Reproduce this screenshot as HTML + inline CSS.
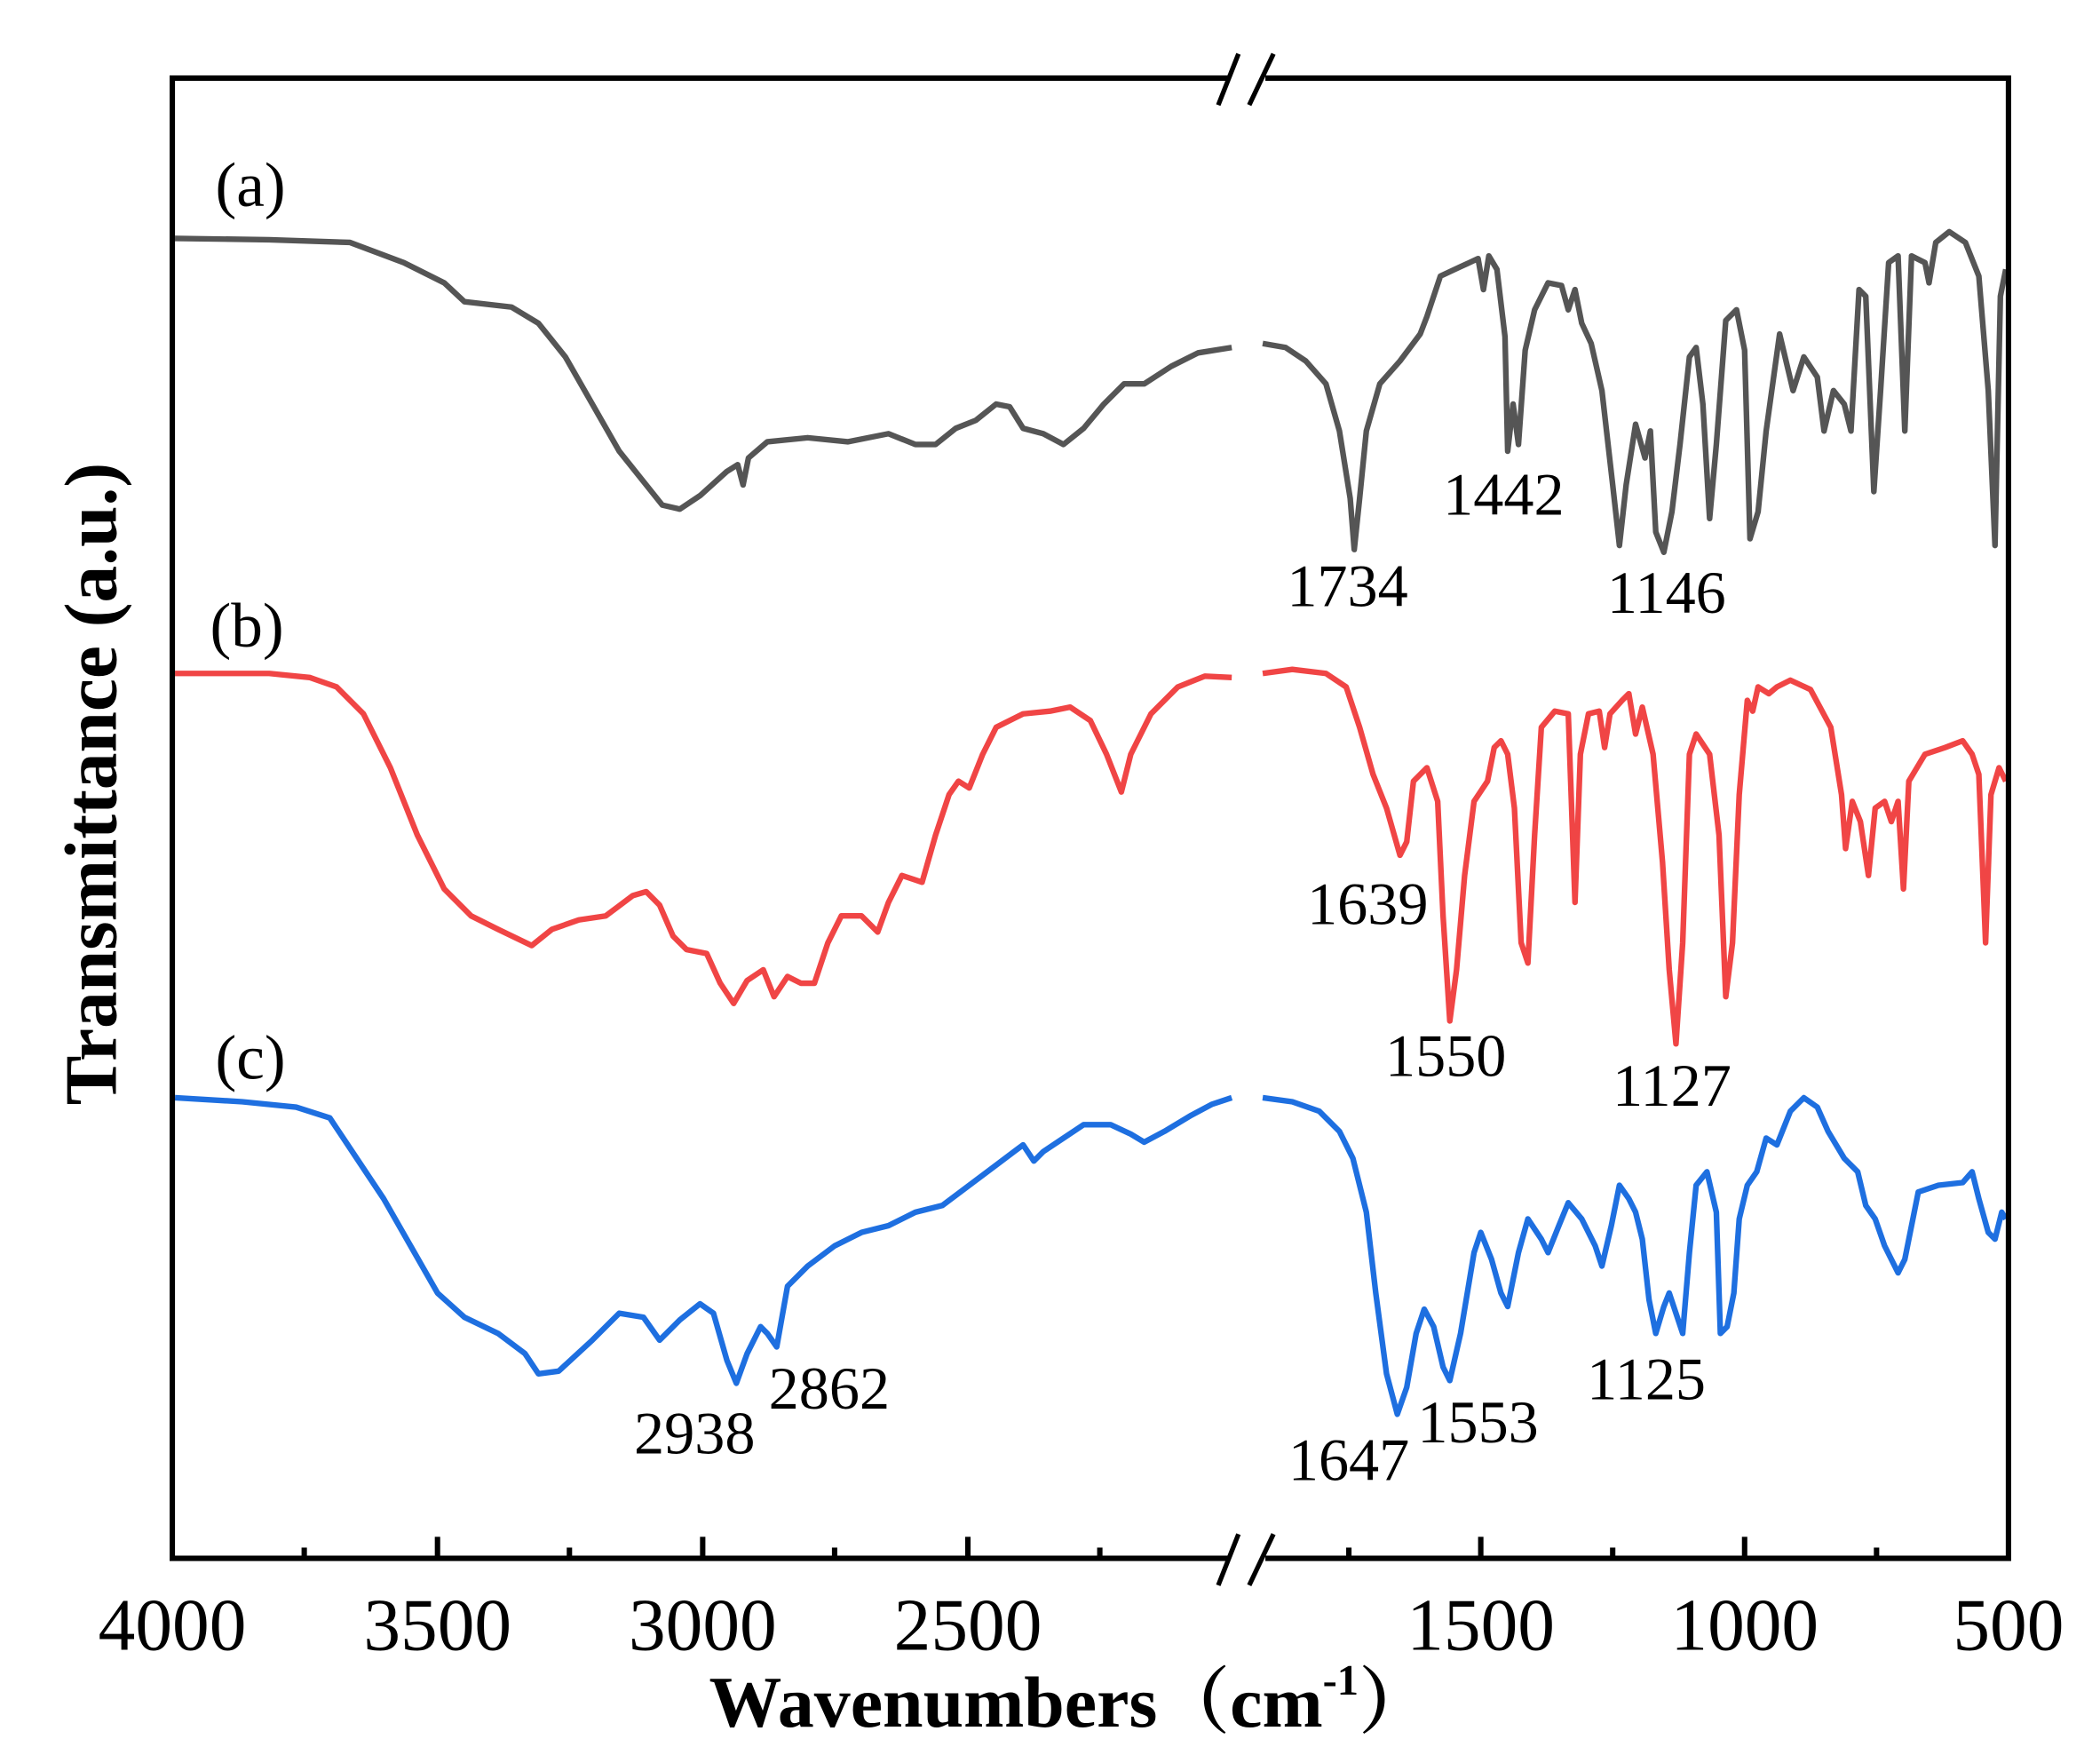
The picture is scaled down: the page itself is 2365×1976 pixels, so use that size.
<!DOCTYPE html>
<html><head><meta charset="utf-8"><style>html,body{margin:0;padding:0;background:#fff}svg{display:block}</style></head>
<body>
<svg width="2365" height="1976" viewBox="0 0 1560 1303" preserveAspectRatio="none" xmlns="http://www.w3.org/2000/svg" font-family="Liberation Serif, serif">
<rect width="1560" height="1303" fill="#fff"/>
<g fill="none" stroke-linejoin="round" stroke-width="4.2">
<polyline stroke="#555" points="130,177 200,178 260,180 300,195 330,210 345,224 380,228 400,240 420,265 440,300 460,335 480,360 492,375 505,378 520,368 540,350 548,345 552,360 556,340 570,328 600,325 630,328 660,322 680,330 695,330 710,318 725,312 740,300 750,302 760,318 775,322 790,330 805,318 820,300 835,285 850,285 870,272 890,262 915,258"/>
<polyline stroke="#555" points="938,255 955,258 970,268 985,285 995,320 1003,370 1006,408 1010,370 1015,320 1025,285 1040,268 1055,248 1060,235 1070,205 1085,198 1098,192 1102,215 1106,190 1112,200 1118,250 1120,335 1124,300 1128,330 1133,260 1140,230 1150,210 1160,212 1165,230 1170,215 1175,240 1182,255 1190,290 1198,360 1203,405 1208,360 1215,315 1222,340 1226,320 1230,395 1236,410 1242,380 1248,330 1255,265 1260,258 1265,300 1270,385 1275,330 1282,238 1290,230 1296,260 1300,400 1306,380 1312,320 1322,248 1332,290 1340,265 1350,280 1355,320 1362,290 1370,300 1375,320 1381,215 1386,220 1392,365 1397,290 1403,195 1410,190 1415,320 1420,190 1430,195 1433,210 1438,180 1448,172 1460,180 1470,205 1477,290 1482,405 1486,220 1490,200"/>
<polyline stroke="#f04545" points="130,500 200,500 230,503 250,510 270,530 290,570 310,620 330,660 350,680 370,690 395,702 410,690 430,683 450,680 470,665 480,662 490,672 500,695 510,705 525,708 535,730 545,745 555,728 567,720 575,740 585,725 595,730 605,730 615,700 625,680 640,680 652,692 660,670 670,650 685,655 695,620 705,590 712,580 720,585 730,560 740,540 760,530 780,528 795,525 810,535 822,560 833,588 840,560 855,530 875,510 895,502 915,503"/>
<polyline stroke="#f04545" points="938,500 960,497 985,500 1000,510 1010,540 1020,575 1030,600 1040,635 1045,625 1050,580 1060,570 1068,595 1072,680 1077,758 1082,720 1088,650 1095,595 1105,580 1110,555 1115,550 1120,560 1125,600 1130,700 1135,715 1140,620 1145,540 1155,528 1165,530 1170,670 1174,560 1180,530 1188,528 1192,555 1196,530 1205,520 1210,515 1215,545 1220,525 1228,560 1235,640 1240,720 1245,775 1250,700 1255,560 1260,545 1270,560 1277,620 1282,740 1287,700 1292,590 1298,520 1302,528 1306,510 1314,515 1320,510 1330,505 1345,512 1360,540 1368,590 1371,630 1376,595 1382,610 1388,650 1393,600 1400,595 1405,610 1410,595 1414,660 1418,580 1430,560 1445,555 1458,550 1465,560 1470,575 1475,700 1479,590 1485,570 1490,580"/>
<polyline stroke="#1e6fe0" points="130,815 180,818 220,822 245,830 265,860 285,890 305,925 325,960 345,978 370,990 390,1005 400,1020 415,1018 440,995 460,975 478,978 490,995 505,980 520,968 530,975 540,1010 547,1027 555,1005 565,985 570,990 577,1000 585,955 600,940 620,925 640,915 660,910 680,900 700,895 720,880 740,865 760,850 768,862 775,855 790,845 805,835 825,835 840,842 850,848 865,840 885,828 900,820 915,815"/>
<polyline stroke="#1e6fe0" points="938,815 960,818 980,825 995,840 1005,860 1015,900 1022,960 1030,1020 1038,1050 1045,1030 1052,990 1058,972 1065,985 1072,1015 1077,1025 1085,990 1095,930 1100,915 1108,935 1115,960 1120,970 1128,930 1135,905 1145,920 1150,930 1158,910 1165,893 1175,905 1185,925 1190,940 1197,910 1203,880 1210,890 1215,900 1220,920 1225,965 1230,990 1236,970 1240,960 1245,975 1250,990 1255,930 1260,880 1268,870 1275,900 1278,990 1283,985 1288,960 1292,905 1298,880 1305,870 1312,845 1320,850 1330,825 1340,815 1350,822 1358,840 1370,860 1380,870 1386,895 1393,905 1400,925 1410,945 1415,935 1425,885 1440,880 1458,878 1465,870 1470,890 1477,915 1482,920 1487,900 1490,905"/>
</g>
<g stroke="#000" stroke-width="4" fill="none">
<polyline points="912,58 128,58 128,1157 912,1157"/>
<polyline points="940,58 1492,58 1492,1157 940,1157"/>
</g>
<g stroke="#fff" stroke-width="8"><line x1="914" y1="58" x2="938" y2="58"/><line x1="914" y1="1157" x2="938" y2="1157"/></g>
<g stroke="#000" stroke-width="3.5">
<line x1="905" y1="78" x2="920" y2="40"/><line x1="928" y1="78" x2="946" y2="40"/>
<line x1="905" y1="1177" x2="920" y2="1139"/><line x1="928" y1="1177" x2="946" y2="1139"/>
</g>
<g stroke="#000" stroke-width="4">
<line x1="325" y1="1157" x2="325" y2="1141"/><line x1="522" y1="1157" x2="522" y2="1141"/><line x1="719" y1="1157" x2="719" y2="1141"/>
<line x1="226" y1="1157" x2="226" y2="1149"/><line x1="423" y1="1157" x2="423" y2="1149"/><line x1="620" y1="1157" x2="620" y2="1149"/><line x1="817" y1="1157" x2="817" y2="1149"/>
<line x1="1100" y1="1157" x2="1100" y2="1141"/><line x1="1296" y1="1157" x2="1296" y2="1141"/>
<line x1="1002" y1="1157" x2="1002" y2="1149"/><line x1="1198" y1="1157" x2="1198" y2="1149"/><line x1="1394" y1="1157" x2="1394" y2="1149"/>
</g>
<g font-size="55" text-anchor="middle" fill="#000">
<text x="128" y="1225">4000</text><text x="325" y="1225">3500</text><text x="522" y="1225">3000</text><text x="719" y="1225">2500</text>
<text x="1100" y="1225">1500</text><text x="1296" y="1225">1000</text><text x="1492" y="1225">500</text>
</g>
<text x="795" y="1282" font-size="54" font-weight="bold" text-anchor="middle" font-family="Liberation Serif, 'Noto Serif CJK SC', serif">Wavenumbers（cm<tspan font-size="32" dy="-24">-1</tspan><tspan dy="24">）</tspan></text>
<text transform="translate(86,582) rotate(-90)" font-size="55" font-weight="bold" text-anchor="middle">Transmittance (a.u.)</text>
<g font-size="47" fill="#000">
<text x="160" y="153">(a)</text><text x="156" y="480">(b)</text><text x="160" y="801">(c)</text>
</g>
<g font-size="45" text-anchor="middle" fill="#000">
<text x="1001" y="450">1734</text><text x="1117" y="382">1442</text><text x="1238" y="455">1146</text>
<text x="1016" y="686">1639</text><text x="1074" y="799">1550</text><text x="1242" y="821">1127</text>
<text x="516" y="1079">2938</text><text x="616" y="1046">2862</text>
<text x="1002" y="1099">1647</text><text x="1098" y="1071">1553</text><text x="1223" y="1039">1125</text>
</g>
</svg>
</body></html>
